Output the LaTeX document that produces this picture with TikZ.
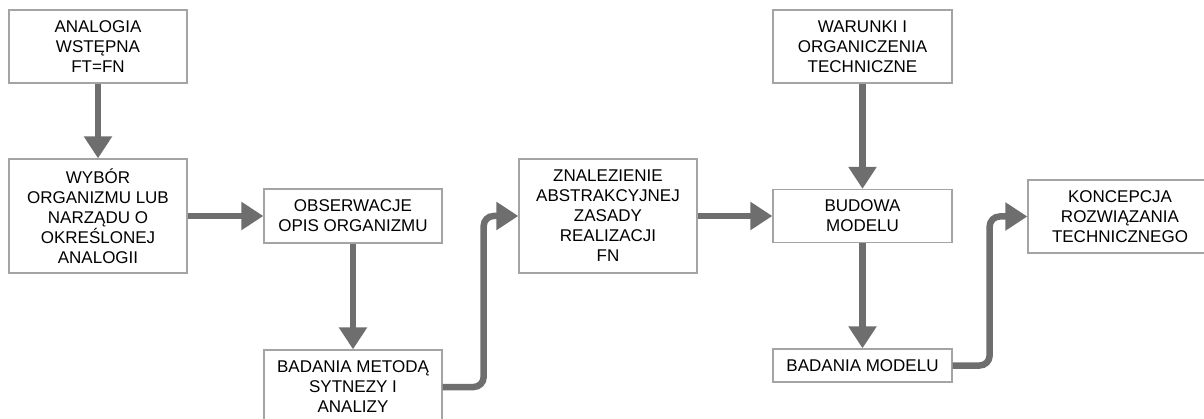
\documentclass[tikz,border=0pt]{standalone}
\usepackage{fontspec}
\setmainfont{Liberation Sans}
\usetikzlibrary{arrows.meta}
\definecolor{boxline}{HTML}{A4A4A4}
\definecolor{flow}{HTML}{6E6E6E}
\begin{document}
\begin{tikzpicture}[x=1pt,y=-1pt,
  stepbox/.style={draw=boxline, line width=1.3pt, fill=white, align=center,
    inner sep=0pt, font=\fontsize{17}{20}\selectfont, text=black},
  flowarrow/.style={draw=flow, line width=6.5pt,
    -{Triangle[length=22pt,width=27pt,fill=flow]}},
  elbow/.style={flowarrow, rounded corners=10pt}]
\useasboundingbox (0,0) rectangle (1204,419);

% process boxes
\node[stepbox, minimum width=178pt, minimum height=73pt]  (b1) at (98,46.5)
  {ANALOGIA\\WSTĘPNA\\FT=FN};
\node[stepbox, minimum width=178pt, minimum height=114pt] (b2) at (98,216)
  {WYBÓR\\ORGANIZMU LUB\\NARZĄDU O\\OKREŚLONEJ\\ANALOGII};
\node[stepbox, minimum width=178pt, minimum height=54pt]  (b3) at (353,216)
  {OBSERWACJE\\OPIS ORGANIZMU};
\node[stepbox, minimum width=178pt, minimum height=74pt]  (b4) at (353,387)
  {BADANIA METODĄ\\SYTNEZY I\\ANALIZY};
\node[stepbox, minimum width=178pt, minimum height=114pt] (b5) at (608,216)
  {ZNALEZIENIE\\ABSTRAKCYJNEJ\\ZASADY\\REALIZACJI\\FN};
\node[stepbox, minimum width=179pt, minimum height=73pt]  (b7) at (862.5,46.5)
  {WARUNKI I\\ORGANICZENIA\\TECHNICZNE};
\node[stepbox, minimum width=179pt, minimum height=53pt]  (b6) at (862.5,216)
  {BUDOWA\\MODELU};
\node[stepbox, minimum width=179pt, minimum height=33pt]  (b8) at (862.5,365.5)
  {BADANIA MODELU};
\node[stepbox, minimum width=184pt, minimum height=73pt]  (b9) at (1120,216.5)
  {KONCEPCJA\\ROZWIĄZANIA\\TECHNICZNEGO};

% connectors
\draw[flowarrow] (b1.south) -- (b2.north);
\draw[flowarrow] (b2.east) -- (b3.west);
\draw[flowarrow] (b3.south) -- (b4.north);
\draw[elbow] (b4.east) -- ++(41,0) |- (b5.west);
\draw[flowarrow] (b5.east) -- (b6.west);
\draw[flowarrow] (b7.south) -- (b6.north);
\draw[flowarrow] (b6.south) -- (b8.north);
\draw[elbow] (b8.east) -- ++(37,0) |- (b9.west);
\end{tikzpicture}
\end{document}
